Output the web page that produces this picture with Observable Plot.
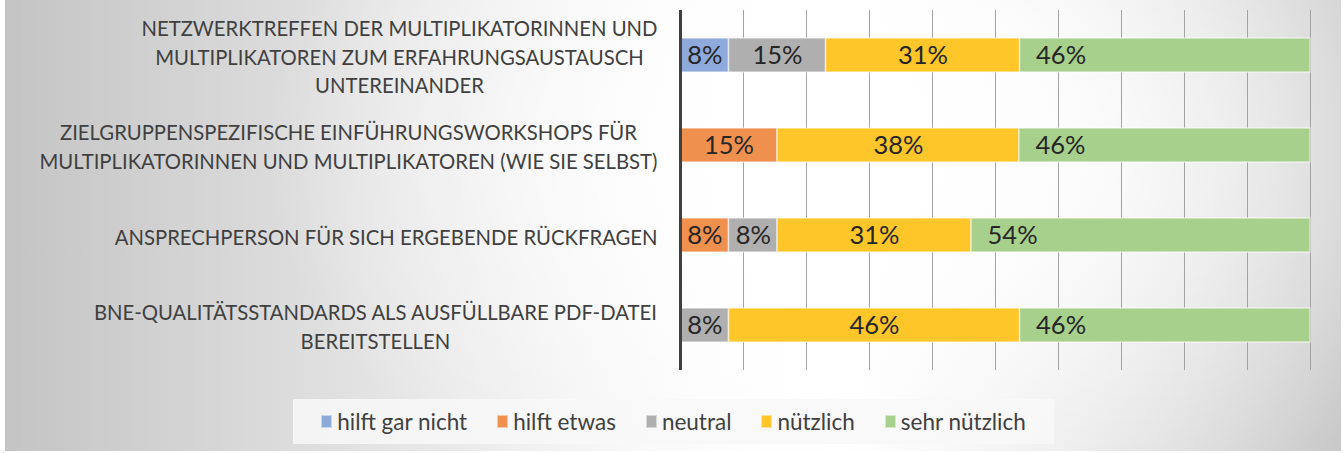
<!DOCTYPE html>
<html>
<head>
<meta charset="utf-8">
<script src="https://cdn.jsdelivr.net/npm/d3@7"></script>
<script src="https://cdn.jsdelivr.net/npm/@observablehq/plot@0.6"></script>
<style>
  html, body { margin: 0; padding: 0; background: #ffffff; }
  #wrap { position: relative; width: 1343px; height: 453px; overflow: hidden; font-family: Lato, sans-serif; }
  #bg { position: absolute; left: 5px; top: 0; width: 1336px; height: 451px;
        background:
          radial-gradient(ellipse 620px 420px at 880px 150px, rgba(255,255,255,1) 0%, rgba(255,255,255,0.85) 35%, rgba(255,255,255,0) 100%),
          linear-gradient(to right, #c4c4c4 0%, #e6e6e6 30%, #fbfbfb 52%, #ffffff 63%, #e4e4e4 82%, #c9c9c9 100%); }
  #chart { position: absolute; left: 0; top: 0; }
  #legend { position: absolute; left: 293px; top: 399px; width: 761px; height: 45px;
            background: rgba(248,248,248,0.85); display: flex; align-items: center; justify-content: center;
            font-size: 22.5px; color: #404040; }
  .item { display: flex; align-items: center; margin: 0 15px; }
  .sw { width: 11px; height: 13px; margin-right: 5px; box-sizing: border-box; border: 1px solid rgba(255,255,255,0.5); }
</style>
</head>
<body>
<div id="wrap">
  <div id="bg"></div>
  <div id="chart"></div>
  <div id="legend"></div>
</div>
<script>
// ---- data ----
const categories = [
  "NETZWERKTREFFEN DER MULTIPLIKATORINNEN UND\nMULTIPLIKATOREN ZUM ERFAHRUNGSAUSTAUSCH\nUNTEREINANDER",
  "ZIELGRUPPENSPEZIFISCHE EINFÜHRUNGSWORKSHOPS FÜR\nMULTIPLIKATORINNEN UND MULTIPLIKATOREN (WIE SIE SELBST)",
  "ANSPRECHPERSON FÜR SICH ERGEBENDE RÜCKFRAGEN",
  "BNE-QUALITÄTSSTANDARDS ALS AUSFÜLLBARE PDF-DATEI\nBEREITSTELLEN"
];
const series = ["hilft gar nicht", "hilft etwas", "neutral", "nützlich", "sehr nützlich"];
const seriesColors = ["#8eaadb", "#f0904f", "#afafaf", "#ffc629", "#a8d08d"];
const hilftGarNicht = [7.7, 0, 0, 0];
const hilftEtwas    = [0, 15.4, 7.7, 0];
const neutral       = [15.4, 0, 7.7, 7.7];
const nuetzlich     = [30.8, 38.4, 30.8, 46.2];
const sehrNuetzlich = [46.1, 46.2, 53.8, 46.1];
const gridTicks = [10, 20, 30, 40, 50, 60, 70, 80, 90, 100];

const seriesValues = [hilftGarNicht, hilftEtwas, neutral, nuetzlich, sehrNuetzlich];
const table = [];
series.forEach((s, i) => {
  categories.forEach((c, j) => {
    const v = seriesValues[i][j];
    if (v > 0) table.push({cat: c, series: s, value: v, label: Math.round(v) + "%"});
  });
});

// measure label blocks for centered multi-line alignment
const labelSize = 20.3;
const ctx = document.createElement("canvas").getContext("2d");
ctx.font = labelSize + "px Lato";
const gap = 23;

const labelMarks = categories.map(c => {
  const w = Math.max(...c.split("\n").map(l => ctx.measureText(l).width));
  return Plot.text([c], {
    y: d => d, text: d => d, frameAnchor: "left", textAnchor: "middle",
    dx: -(gap + w / 2), fontSize: labelSize, lineHeight: 1.4, fill: "#404040"
  });
});

const chart = Plot.plot({
  width: 1343,
  height: 390,
  marginLeft: 680,
  marginRight: 33,
  marginTop: 10,
  marginBottom: 20,
  style: {background: "transparent", fontFamily: "Lato, sans-serif"},
  x: {domain: [0, 100], axis: null},
  y: {domain: categories, axis: null, paddingInner: 0.62, paddingOuter: 0.31},
  color: {domain: series, range: seriesColors},
  marks: [
    Plot.ruleX(gridTicks, {stroke: "#a3a3a3", strokeWidth: 1}),
    Plot.barX(table, Plot.stackX({
      x: "value", y: "cat", z: "series", order: series, fill: "series",
      stroke: "#ffffff", strokeOpacity: 0.55, strokeWidth: 1.5
    })),
    Plot.text(table, Plot.stackX({
      x: "value", y: "cat", z: "series", order: series,
      text: d => d.series !== "sehr nützlich" ? d.label : null,
      fontSize: 25.5, fill: "#262626"
    })),
    Plot.text(table, Plot.stackX1({
      x: "value", y: "cat", z: "series", order: series,
      text: d => d.series === "sehr nützlich" ? d.label : null,
      textAnchor: "start", dx: 16, fontSize: 25.5, fill: "#262626"
    })),
    Plot.ruleX([0], {stroke: "#404040", strokeWidth: 3}),
    ...labelMarks
  ]
});
document.getElementById("chart").appendChild(chart);

const legend = document.getElementById("legend");
series.forEach((s, i) => {
  const item = document.createElement("div");
  item.className = "item";
  const sw = document.createElement("span");
  sw.className = "sw";
  sw.style.background = seriesColors[i];
  const t = document.createElement("span");
  t.textContent = s;
  item.appendChild(sw);
  item.appendChild(t);
  legend.appendChild(item);
});
</script>
</body>
</html>
